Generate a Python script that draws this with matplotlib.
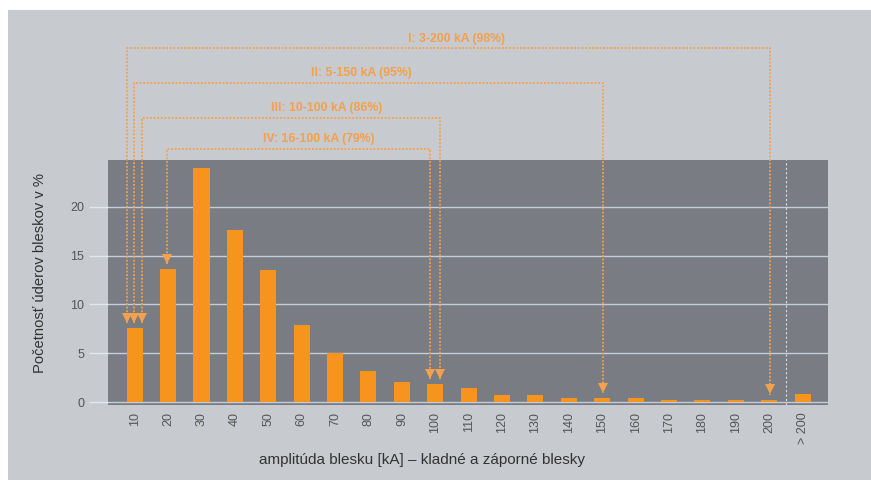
import matplotlib
matplotlib.use("Agg")
import matplotlib.pyplot as plt
import matplotlib.transforms as mtransforms
from matplotlib.patches import Rectangle

plt.rcParams['font.family'] = ['Liberation Sans', 'DejaVu Sans']

# ---- data ----
categories = ['10', '20', '30', '40', '50', '60', '70', '80', '90', '100',
              '110', '120', '130', '140', '150', '160', '170', '180', '190', '200', '> 200']
values = [7.6, 13.6, 24.0, 17.6, 13.5, 7.9, 5.0, 3.2, 2.1, 1.85,
          1.5, 0.76, 0.76, 0.43, 0.43, 0.43, 0.26, 0.26, 0.26, 0.26, 0.86]
yticks = [0, 5, 10, 15, 20]

range_labels = ['I: 3-200 kA (98%)', 'II: 5-150 kA (95%)',
                'III: 10-100 kA (86%)', 'IV: 16-100 kA (79%)']
range_start_bin = [0, 0, 0, 1]
range_end_bin = [19, 14, 9, 9]

# ---- layout / style ----
start_offset = [-0.24, -0.01, 0.23, -0.04]
end_offset = [0.02, 0.02, 0.14, -0.16]
levels = [36.2, 32.7, 29.1, 25.9]
label_x = [9.64, 6.8, 5.75, 5.5]
tip_gap = 0.5

BG = '#C7CACE'
DARK = '#797D83'
BAR = '#F7941E'
ARROW = '#F5A04A'
TXT = '#555555'

fig = plt.figure(figsize=(8.71, 4.8), dpi=100)
fig.patch.set_facecolor('white')
fig.patches.append(Rectangle((8 / 871, 0), 1 - 8 / 871, 1 - 10 / 480,
                             transform=fig.transFigure, facecolor=BG,
                             edgecolor='none', zorder=-10))

ax = fig.add_axes([108 / 871, 1 - 405 / 480, 720 / 871, 245 / 480])
ax.set_facecolor(DARK)
for s in ax.spines.values():
    s.set_visible(False)

x = list(range(len(categories)))
ax.bar(x, values, width=0.48, color=BAR, zorder=3)

ax.set_xlim(-0.8, 20.76)
ax.set_ylim(-0.28, 24.78)

ax.set_yticks(yticks)
ax.set_yticklabels([str(t) for t in yticks], fontsize=9, color=TXT)
ax.tick_params(axis='y', length=14, width=1, color='#E4E8EC', pad=3)
ax.set_xticks(x)
ax.set_xticklabels(categories, rotation=90, fontsize=9, color=TXT)
ax.tick_params(axis='x', length=0, pad=5)

ax.yaxis.grid(True, color='#C2CEDA', linewidth=1, zorder=1)
ax.set_axisbelow(True)

ax.axvline(19.5, color='#D8DDE2', linewidth=0.8, linestyle=(0, (2, 2)), zorder=2)

# ---- range annotations ----
dot = (0, (1, 1))
for lbl, sb, eb, so, eo, lev, lx in zip(range_labels, range_start_bin, range_end_bin,
                                       start_offset, end_offset, levels, label_x):
    xs = sb + so
    xe = eb + eo
    ys = values[sb] + tip_gap
    ye = values[eb] + tip_gap
    ax.plot([xs, xs, xe, xe], [ys, lev, lev, ye], color=ARROW, linewidth=1.3,
            linestyle=dot, clip_on=False, zorder=4)
    for xt, yt in ((xs, ys), (xe, ye)):
        tr = mtransforms.offset_copy(ax.transData, fig=fig, x=0, y=4, units='points')
        ax.plot([xt], [yt], marker='v', markersize=6.5, color=ARROW,
                markeredgewidth=0, transform=tr, clip_on=False, zorder=5)
    tr = mtransforms.offset_copy(ax.transData, fig=fig, x=0, y=7, units='points')
    ax.text(lx, lev, lbl, transform=tr, ha='center', va='center', fontsize=8.8,
            fontweight='bold', color=ARROW, clip_on=False)

fig.text(40 / 871, 1 - 273 / 480, 'Početnosť úderov bleskov v %', rotation=90,
         ha='center', va='center', fontsize=10.6, color='#333333')
fig.text(422 / 871, 1 - 460 / 480, 'amplitúda blesku [kA] – kladné a záporné blesky',
         ha='center', va='center', fontsize=11, color='#333333')

fig.savefig('out.png', dpi=100, facecolor=fig.get_facecolor())
